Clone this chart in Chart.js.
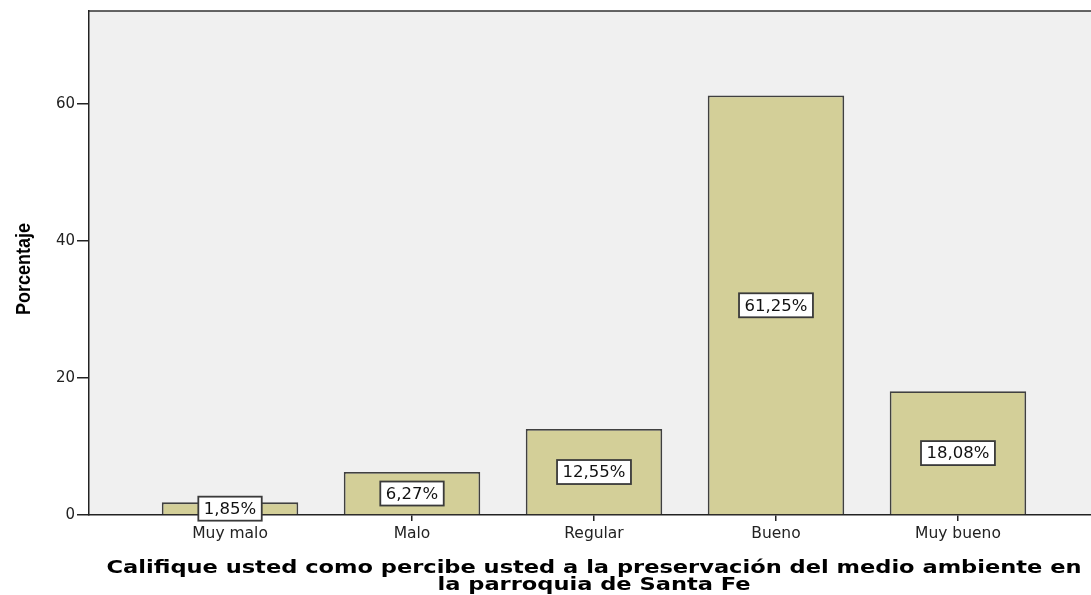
<!DOCTYPE html>
<html>
<head>
<meta charset="utf-8">
<script src="https://cdn.jsdelivr.net/npm/chart.js@4"></script>
<style>
  html, body { margin: 0; padding: 0; background: #fff; overflow: hidden; }
  #wrap { width: 1110px; height: 595px; }
</style>
</head>
<body>
<div id="wrap"><canvas id="barChart" width="1110" height="595"></canvas></div>
<script>
const categories = ['Muy malo', 'Malo', 'Regular', 'Bueno', 'Muy bueno'];
const percentages = [1.85, 6.27, 12.55, 61.25, 18.08];
const valueLabels = ['1,85%', '6,27%', '12,55%', '61,25%', '18,08%'];
const yTicks = [0, 20, 40, 60];
const xTitle = ['Califique usted como percibe usted a la preservación del medio ambiente en', 'la parroquia de Santa Fe'];
const yTitle = 'Porcentaje';

// grey plot box, top frame line, boxed value labels and the stretched titles
const plotBox = {
  id: 'plotBox',
  beforeDraw(chart) {
    const { ctx, chartArea: a } = chart;
    ctx.save();
    ctx.fillStyle = '#f0f0f0';
    ctx.fillRect(a.left, a.top, a.right - a.left, a.bottom - a.top);
    ctx.strokeStyle = '#333';
    ctx.lineWidth = 1.5;
    ctx.beginPath();
    ctx.moveTo(a.left, a.top);
    ctx.lineTo(a.right, a.top);
    ctx.stroke();
    ctx.restore();
  },
  afterDatasetsDraw(chart) {
    const { ctx } = chart;
    const meta = chart.getDatasetMeta(0);
    const y = chart.scales.y;
    ctx.save();
    ctx.font = '16.5px "DejaVu Sans", Verdana, sans-serif';
    ctx.textAlign = 'center';
    ctx.textBaseline = 'middle';
    meta.data.forEach((bar, i) => {
      const cy = y.getPixelForValue(percentages[i] / 2);
      const w = ctx.measureText(valueLabels[i]).width + 11;
      const h = 24;
      ctx.fillStyle = '#fff';
      ctx.fillRect(bar.x - w / 2, cy - h / 2, w, h);
      ctx.strokeStyle = '#3a3a3a';
      ctx.lineWidth = 1.8;
      ctx.strokeRect(bar.x - w / 2, cy - h / 2, w, h);
      ctx.fillStyle = '#111';
      ctx.fillText(valueLabels[i], bar.x, cy + 1);
    });
    ctx.restore();
  },
  afterDraw(chart) {
    const { ctx, chartArea: a } = chart;
    const cx = (a.left + a.right) / 2;
    ctx.save();
    ctx.font = 'bold 18px "DejaVu Sans", Verdana, sans-serif';
    ctx.fillStyle = '#000';
    ctx.textAlign = 'center';
    ctx.textBaseline = 'alphabetic';
    const sx = 975 / ctx.measureText(xTitle[0]).width;
    ctx.translate(cx, 0);
    ctx.scale(sx, 1);
    ctx.fillText(xTitle[0], 0, 573);
    ctx.fillText(xTitle[1], 0, 590);
    ctx.restore();

    ctx.save();
    ctx.font = 'bold 18px "Liberation Sans", Arial, sans-serif';
    ctx.fillStyle = '#000';
    ctx.textAlign = 'center';
    ctx.textBaseline = 'middle';
    ctx.translate(24, 269);
    ctx.rotate(-Math.PI / 2);
    ctx.scale(1, 1.15);
    ctx.fillText(yTitle, 0, 0);
    ctx.restore();
  }
};

new Chart(document.getElementById('barChart').getContext('2d'), {
  type: 'bar',
  data: {
    datasets: [{
      data: percentages.map((v, i) => ({ x: i, y: v })),
      backgroundColor: '#d3cf98',
      borderColor: '#404040',
      borderWidth: 1.8,
      categoryPercentage: 1,
      barPercentage: 0.75
    }]
  },
  options: {
    responsive: false,
    animation: false,
    layout: { padding: { top: 11, left: 0, right: 11, bottom: 0 } },
    plugins: { legend: { display: false }, tooltip: { enabled: false } },
    scales: {
      x: {
        type: 'linear',
        offset: false,
        min: -0.775,
        max: 4.775,
        afterFit: s => { s.height = 80; },
        afterBuildTicks: s => { s.ticks = categories.map((c, i) => ({ value: i })); },
        ticks: {
          callback: v => categories[v],
          color: '#222',
          font: { family: '"DejaVu Sans", Verdana, sans-serif', size: 15.5 },
          padding: 4
        },
        grid: { offset: false, drawOnChartArea: false, drawTicks: true, tickLength: 6, color: '#222', lineWidth: 1.5 },
        border: { display: true, color: '#222', width: 1.5 },
        title: { display: false }
      },
      y: {
        min: 0,
        max: 73.6,
        afterFit: s => { s.width = 89; },
        afterBuildTicks: s => { s.ticks = yTicks.map(v => ({ value: v })); },
        ticks: {
          color: '#222',
          font: { family: '"DejaVu Sans", Verdana, sans-serif', size: 15 },
          padding: 2
        },
        grid: { drawOnChartArea: false, drawTicks: true, tickLength: 12, color: '#222', lineWidth: 1.5 },
        border: { display: true, color: '#222', width: 1.5 },
        title: { display: false }
      }
    }
  },
  plugins: [plotBox]
});
</script>
</body>
</html>
